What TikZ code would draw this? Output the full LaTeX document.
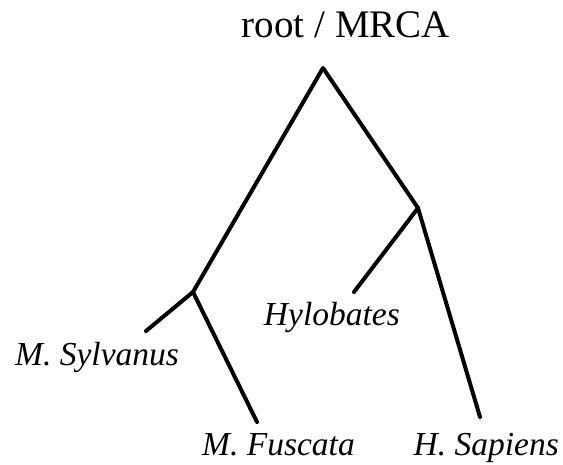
\documentclass[tikz,border=0pt]{standalone}
\usepackage{fontspec}
\setmainfont{Liberation Serif}
\begin{document}
\begin{tikzpicture}[x=1pt,y=-1pt,
  branch/.style={line width=4pt,line cap=round,line join=round},
  taxon/.style={font=\fontsize{33.5}{38}\selectfont\itshape,inner sep=0pt},
  title/.style={font=\fontsize{39}{44}\selectfont,inner sep=0pt}]
\useasboundingbox (0,0) rectangle (563,464);
% tree vertices
\coordinate (root) at (323,68);
\coordinate (mac) at (193,292);
\coordinate (hom) at (418,208);
\coordinate (syl) at (146,331);
\coordinate (fus) at (257,422);
\coordinate (hyl) at (354,292);
\coordinate (sap) at (480,417);
% branches
\draw[branch] (syl) -- (mac) -- (root) -- (hom) -- (sap);
\draw[branch] (mac) -- (fus);
\draw[branch] (hom) -- (hyl);
% labels
\node[title,anchor=base] (lroot) at (346,37) {root / MRCA};
\node[taxon,anchor=base west] (lsyl) at (15,365) {M. Sylvanus};
\node[taxon,anchor=base west] (lfus) at (202,455) {M. Fuscata};
\node[taxon,anchor=base east] (lhyl) at (400,325) {Hylobates};
\node[taxon,anchor=base east] (lsap) at (559,455) {H. Sapiens};
\end{tikzpicture}
\end{document}
